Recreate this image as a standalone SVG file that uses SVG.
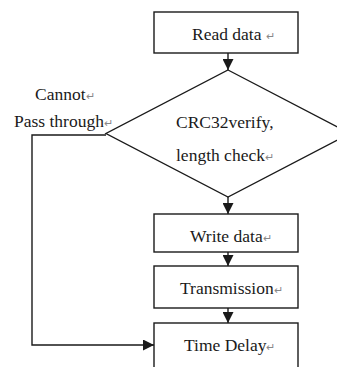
<svg xmlns="http://www.w3.org/2000/svg" width="337" height="367" viewBox="0 0 337 367">
<defs>
<style>
.box{fill:#fff;stroke:#1a1a1a;stroke-width:1.4}
.ln{fill:none;stroke:#1a1a1a;stroke-width:1.4}
.t{font-family:"Liberation Serif","Times New Roman",serif;font-size:17.5px;fill:#1a1a1a}
.rt{font-size:11px;fill:#888}
</style>
<marker id="ah" viewBox="0 0 10 10" refX="10" refY="5" markerWidth="11" markerHeight="11" markerUnits="userSpaceOnUse" orient="auto">
<path d="M0,0 L10,5 L0,10 Z" fill="#1a1a1a"/>
</marker>
</defs>
<rect width="337" height="367" fill="#fff"/>
<g id="connectors">
<line class="ln" x1="228" y1="53" x2="228" y2="70" marker-end="url(#ah)"/>
<line class="ln" x1="228" y1="197" x2="228" y2="214" marker-end="url(#ah)"/>
<line class="ln" x1="228" y1="252" x2="228" y2="266" marker-end="url(#ah)"/>
<line class="ln" x1="228" y1="308" x2="228" y2="323" marker-end="url(#ah)"/>
<polyline class="ln" points="106,135 32,135 32,345 154,345" marker-end="url(#ah)"/>
</g>
<g id="read">
<rect class="box" x="154" y="12" width="144" height="41"/>
<text class="t" x="192" y="40">Read data <tspan class="rt">↵</tspan></text>
</g>
<g id="verify">
<polygon class="box" points="228,70 350,133.5 228,197 106,133.5"/>
<text class="t" x="176" y="128">CRC32verify,</text>
<text class="t" x="176" y="161">length check<tspan class="rt">↵</tspan></text>
</g>
<g id="fail-label">
<text class="t" x="35" y="100">Cannot<tspan class="rt">↵</tspan></text>
<text class="t" x="14" y="127">Pass through<tspan class="rt">↵</tspan></text>
</g>
<g id="write">
<rect class="box" x="154" y="214" width="144" height="38"/>
<text class="t" x="190" y="242">Write data<tspan class="rt">↵</tspan></text>
</g>
<g id="transmission">
<rect class="box" x="154" y="266" width="144" height="42"/>
<text class="t" x="180" y="294">Transmission<tspan class="rt">↵</tspan></text>
</g>
<g id="delay">
<rect class="box" x="154" y="323" width="144" height="60"/>
<text class="t" x="184" y="351">Time Delay<tspan class="rt">↵</tspan></text>
</g>
</svg>
